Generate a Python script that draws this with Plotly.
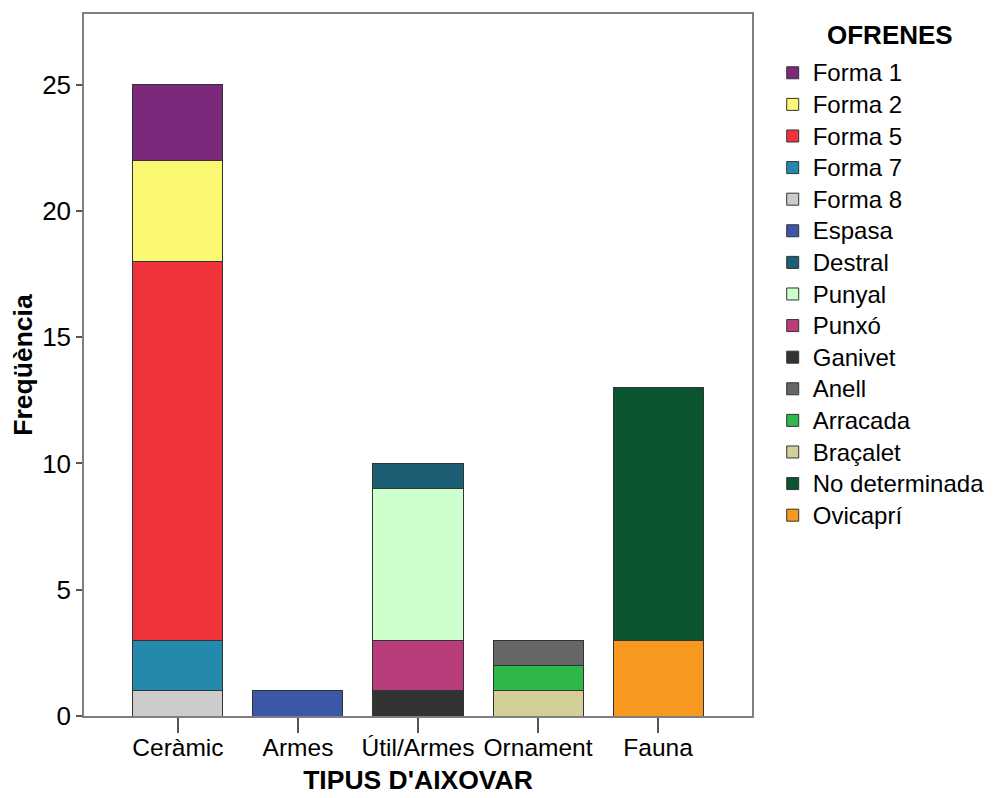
import plotly.graph_objects as go

categories = ["Ceràmic", "Armes", "Útil/Armes", "Ornament", "Fauna"]

# legend order (top to bottom)
series_names = ["Forma 1", "Forma 2", "Forma 5", "Forma 7", "Forma 8", "Espasa", "Destral",
                "Punyal", "Punxó", "Ganivet", "Anell", "Arracada", "Braçalet",
                "No determinada", "Ovicaprí"]
series_category = ["Ceràmic", "Ceràmic", "Ceràmic", "Ceràmic", "Ceràmic", "Armes", "Útil/Armes",
                   "Útil/Armes", "Útil/Armes", "Útil/Armes", "Ornament", "Ornament", "Ornament",
                   "Fauna", "Fauna"]
series_values = [3, 4, 15, 2, 1, 1, 1, 6, 2, 1, 1, 1, 1, 10, 3]
series_colors = ["#7B2A7B", "#FAF772", "#F0333A", "#238AAD", "#CCCCCC", "#3C56A8", "#1C5E73",
                 "#CCFFCC", "#BA3D7B", "#333333", "#666666", "#2EB84A", "#D4CF99",
                 "#0A5530", "#F7991F"]

y_ticks = [0, 5, 10, 15, 20, 25]

FONT = "Liberation Sans, Arial, sans-serif"

fig = go.Figure()
# add in reverse so that stacking goes bottom-up like the reference
for name, cat, val, col in reversed(list(zip(series_names, series_category, series_values, series_colors))):
    fig.add_trace(go.Bar(
        x=[cat], y=[val],
        name='<span style="font-size:24px">' + name + '</span>',
        marker=dict(color=col, line=dict(color="#333333", width=1)),
        width=0.75,
    ))

# the page body adds an 8px offset; figure is sized to fit the window
fig.update_layout(
    width=986, height=790,
    barmode="stack",
    plot_bgcolor="white", paper_bgcolor="white",
    margin=dict(l=76, r=242, t=6, b=82, autoexpand=False),
    font=dict(family=FONT, color="black"),
    legend=dict(
        traceorder="reversed",
        x=1.031, xanchor="left", y=0.9459, yanchor="top",
        font=dict(size=22, family=FONT, color="black"),
        bgcolor="rgba(0,0,0,0)",
    ),
    annotations=[dict(
        text="<b>OFRENES</b>", xref="paper", yref="paper",
        x=1.2066, y=0.970, xanchor="center", yanchor="middle",
        showarrow=False, font=dict(size=26, family=FONT, color="black"),
    )],
    xaxis=dict(
        type="category", categoryorder="array", categoryarray=categories,
        range=[-0.783, 4.783], automargin=False,
        showline=True, mirror=True, linecolor="#7f7f7f", linewidth=1.5,
        ticks="outside", ticklen=15, tickcolor="#555555", tickwidth=1.5,
        ticklabelstandoff=-6,
        tickfont=dict(size=24.5, family=FONT),
        title=dict(text="<b>TIPUS D'AIXOVAR</b>", font=dict(size=26.5, family=FONT), standoff=10),
        showgrid=False,
    ),
    yaxis=dict(
        range=[0, 27.8], automargin=False,
        tickvals=y_ticks,
        showline=True, mirror=True, linecolor="#7f7f7f", linewidth=1.5,
        ticks="outside", ticklen=6, tickcolor="#555555", tickwidth=1.5,
        tickfont=dict(size=26, family=FONT),
        title=dict(text="<b>Freqüència</b>", font=dict(size=26.5, family=FONT), standoff=4),
        showgrid=False, zeroline=False,
    ),
)

fig.write_html("out.html")
